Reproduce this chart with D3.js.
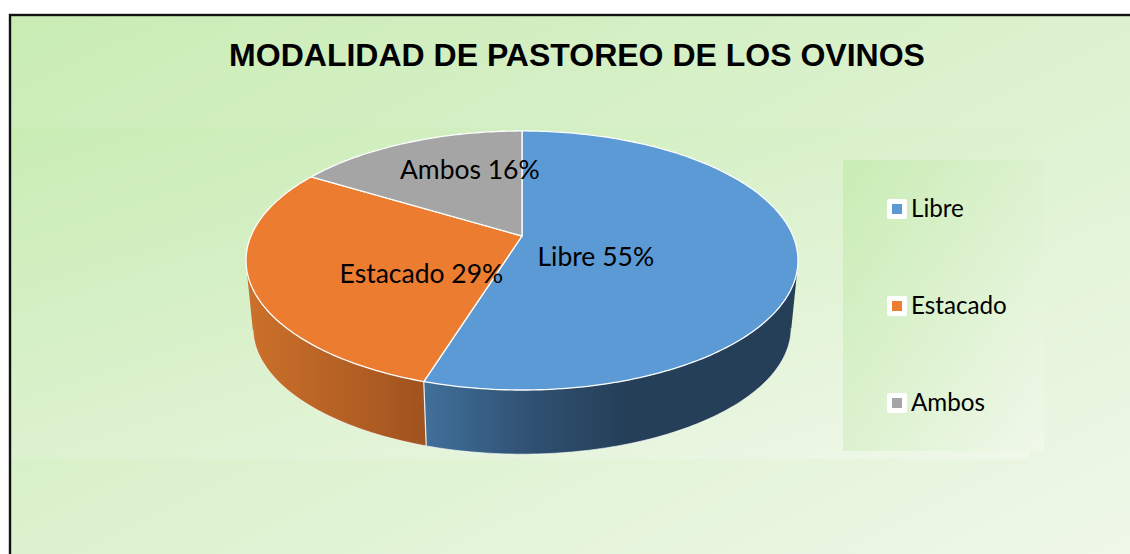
<!DOCTYPE html>
<html><head><meta charset="utf-8">
<style>html,body{margin:0;padding:0;background:#fff;overflow:hidden}svg{display:block}</style>
<script src="https://cdn.jsdelivr.net/npm/d3@7"></script></head>
<body><svg id="c" width="1130" height="554"></svg>
<script>
const titleText = "MODALIDAD DE PASTOREO DE LOS OVINOS";
const categories = ["Libre", "Estacado", "Ambos"];
const values = [54.8, 28.9, 16.3];
const topColors = ["#5b9ad5", "#eb7c30", "#a5a5a5"];
const labelRadius = [0.31, 0.454, 0.624];
const labelAngleShift = [23, -18.7, 9.3];
const wallStops = [
  [[0, "#40709a"], [0.3, "#2f4f70"], [0.55, "#243f57"], [1, "#243f57"]],
  [[0, "#cc712b"], [1, "#a0531f"]],
  [[0, "#777777"], [1, "#777777"]]
];

const svg = d3.select("#c");
const defs = svg.append("defs");
const bg = defs.append("linearGradient").attr("id", "bg").attr("x1", 0).attr("y1", 0).attr("x2", 1).attr("y2", 1);
bg.append("stop").attr("offset", 0).attr("stop-color", "#c9ecb4");
bg.append("stop").attr("offset", 1).attr("stop-color", "#f0f8ea");
wallStops.forEach((st, i) => {
  const g = defs.append("linearGradient").attr("id", "wall" + i).attr("x1", 0).attr("y1", 0).attr("x2", 1).attr("y2", 0);
  st.forEach(s => g.append("stop").attr("offset", s[0]).attr("stop-color", s[1]));
});

// frame and panels
svg.append("rect").attr("x", 10).attr("y", 15).attr("width", 1130).attr("height", 560)
  .attr("fill", "url(#bg)").attr("stroke", "#111").attr("stroke-width", 2.4);
svg.append("rect").attr("x", 12).attr("y", 127).attr("width", 1018).attr("height", 332).attr("fill", "url(#bg)");
svg.append("rect").attr("x", 843).attr("y", 160).attr("width", 201).attr("height", 291).attr("fill", "url(#bg)");

svg.append("text").attr("x", 577).attr("y", 66).attr("text-anchor", "middle")
  .attr("font-family", "Liberation Sans").attr("font-weight", "bold").attr("font-size", 32)
  .attr("fill", "#000").text(titleText);

// perspective projection of the pie's disc
const k = 0.189, spanX = 271, spanY = 124.9;
const apex = [522, 236], depthDrop = 68, lowerScale = 0.975;
const toX = d3.scaleLinear().domain([-1, 1]).range([apex[0] - spanX, apex[0] + spanX]);
const toY = d3.scaleLinear().domain([-1, 1]).range([apex[1] - spanY, apex[1] + spanY]);
function project(angle, r) {
  const u = r * Math.sin(angle), v = -r * Math.cos(angle), w = 1 - k * v;
  return [apex[0] + (toX(u) - apex[0]) / w, apex[1] + (toY(v) - apex[1]) / w];
}
function lower(p) {
  return [apex[0] + (p[0] - apex[0]) * lowerScale, apex[1] + depthDrop + (p[1] - apex[1]) * lowerScale];
}
const slices = d3.pie().sort(null).value(d => d)(values);
const step = Math.PI / 180;
const angles = s => d3.range(s.startAngle, s.endAngle, step).concat([s.endAngle]);
const rim = s => angles(s).map(a => project(a, 1));
const line = d3.line();

// side walls: union of same-winding quads so the silhouette stays straight
function wallPath(s) {
  const t = rim(s), parts = [];
  for (let i = 0; i < t.length - 1; i++) {
    let q = [t[i], t[i + 1], lower(t[i + 1]), lower(t[i])];
    if (d3.polygonArea(q) < 0) q = q.reverse();
    parts.push(line(q) + "Z");
  }
  return parts.join("");
}
const order = [2, 1, 0];
svg.append("g").selectAll("path").data(order).join("path")
  .attr("d", i => wallPath(slices[i])).attr("fill", i => `url(#wall${i})`).attr("stroke", "none");
// light edge along the visible lower rim only
const visibleLower = s => angles(s).filter(a => -Math.cos(a) >= k).map(a => lower(project(a, 1)));
svg.append("g").selectAll("path").data(order.slice(1)).join("path")
  .attr("d", i => line(visibleLower(slices[i]))).attr("fill", "none")
  .attr("stroke", "#fff").attr("stroke-opacity", 0.6).attr("stroke-width", 1);
const joint = project(slices[1].startAngle, 1);
svg.append("path").attr("d", line([joint, lower(joint)])).attr("stroke", "#eee").attr("stroke-width", 1.2).attr("fill", "none");

// top faces
svg.append("g").selectAll("path").data(slices).join("path")
  .attr("d", s => line([apex].concat(rim(s))) + "Z")
  .attr("fill", (s, i) => topColors[i]).attr("stroke", "#fff").attr("stroke-width", 1.3).attr("stroke-linejoin", "round");

// data labels
svg.append("g").selectAll("text").data(slices).join("text")
  .attr("transform", (s, i) => {
    const a = (s.startAngle + s.endAngle) / 2 + labelAngleShift[i] * Math.PI / 180;
    const p = project(a, labelRadius[i]);
    return `translate(${p[0]},${p[1]})`;
  })
  .attr("text-anchor", "middle").attr("dy", "0.35em")
  .attr("font-family", "Lato").attr("font-size", 26.5).attr("fill", "#000")
  .text((s, i) => `${categories[i]} ${Math.round(values[i])}%`);

// legend
const legendY = d3.scalePoint().domain(categories).range([209, 403]);
const leg = svg.append("g").selectAll("g").data(categories).join("g")
  .attr("transform", d => `translate(887,${legendY(d)})`);
leg.append("rect").attr("x", 0).attr("y", -10).attr("width", 20).attr("height", 20).attr("rx", 2).attr("fill", "#fff");
leg.append("rect").attr("x", 5).attr("y", -5).attr("width", 10).attr("height", 10).attr("fill", (d, i) => topColors[i]);
leg.append("text").attr("x", 24).attr("dy", "0.35em").attr("font-family", "Lato").attr("font-size", 24.2).attr("fill", "#000").text(d => d);
</script></body></html>
